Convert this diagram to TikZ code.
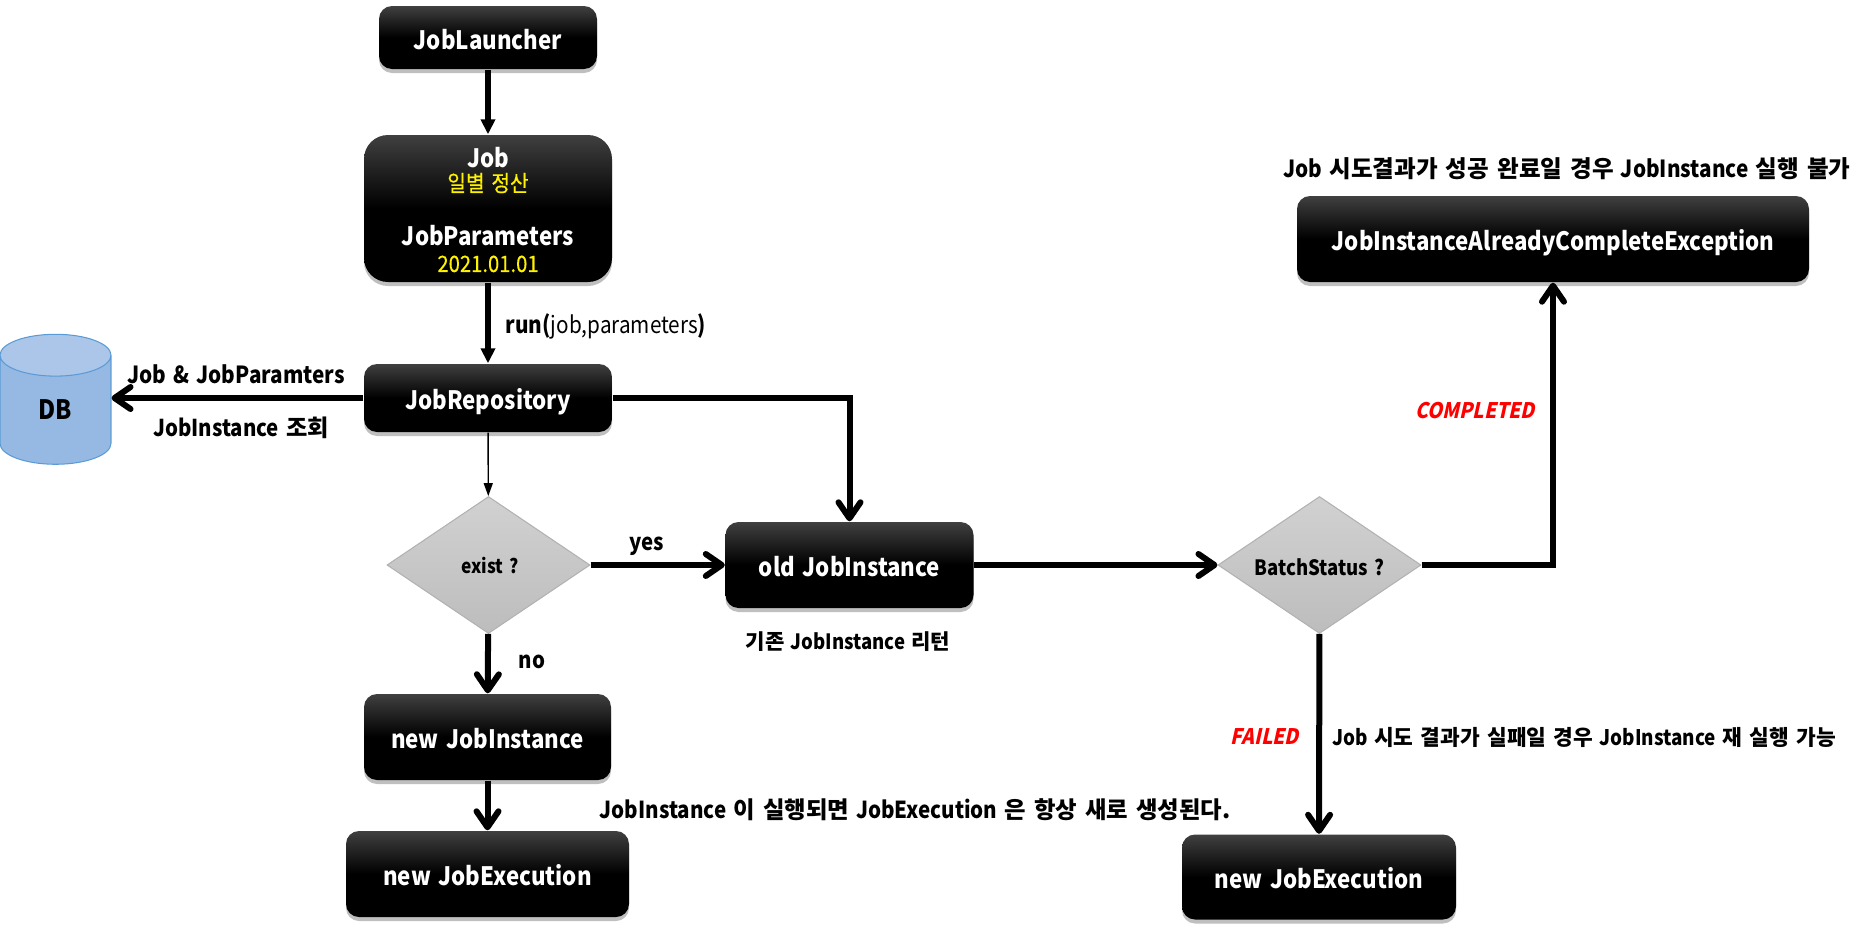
\documentclass[tikz,border=0pt]{standalone}
\usepackage{fontspec}
\setmainfont{Noto Sans CJK KR}[FakeStretch=0.88,WordSpace=1.5]
\newfontfamily\kr{Noto Sans CJK KR}[WordSpace=1.5]
\newfontfamily\yellowfont{Noto Sans CJK KR}[FakeBold=0.35,FakeStretch=0.9,WordSpace=1.5]
\newfontfamily\failfont{Noto Sans CJK KR}[BoldFeatures={FakeSlant=0.22,FakeStretch=0.9}]
\usetikzlibrary{shapes.geometric,shadows,arrows.meta}
\definecolor{diamondgray}{HTML}{C4C4C4}
\definecolor{dbtop}{HTML}{ABC6E8}
\definecolor{dbbottom}{HTML}{8DB3E2}
\definecolor{dbline}{HTML}{5B9BD5}
\tikzset{
  jobbox/.style={rectangle,rounded corners=0.13cm,top color=black!75,bottom color=black,middle color=black,
    drop shadow={shadow xshift=0cm,shadow yshift=-0.04cm,fill=black,opacity=0.25},
    text=white,font=\fontsize{7.2}{9}\selectfont\bfseries,inner sep=0pt,text height=1em,text depth=0.34em},
  decision/.style={diamond,aspect=1.48,inner sep=0pt,draw=black!30,line width=0.3pt,fill=diamondgray,
    top color=black!18,bottom color=black!26,font=\fontsize{5.6}{8}\selectfont\bfseries},
  note/.style={inner sep=0pt,font=\fontsize{6.6}{8}\selectfont\bfseries},
  failnote/.style={note,text=red,font=\fontsize{6.1}{8}\selectfont\failfont\bfseries},
  solidarrow/.style={line width=0.06cm,-{Triangle[length=0.15cm,width=0.14cm]}},
  openarrow/.style={line width=0.06cm,-{Straight Barb[length=0.16cm,width=0.22cm,round]}}
}
\newcommand{\yellowtext}[1]{\textcolor{yellow}{\mdseries\fontsize{6.4}{8}\selectfont\yellowfont #1}}
\begin{document}
\begin{tikzpicture}
\useasboundingbox (0,0) rectangle (18.72,-9.32);

\begin{scope}[every node/.style={jobbox}]
\node[minimum width=2.18cm,minimum height=0.63cm] (JobLauncher) at (4.88,-0.375) {JobLauncher};
\node[minimum width=2.48cm,minimum height=1.47cm,rounded corners=0.24cm,align=center,text height=,text depth=] (Job) at (4.88,-2.085)
  {\rule{0pt}{6.6pt}Job\\[-2.3pt]\yellowtext{일별 정산}\\[6.5pt]JobParameters\\[-1.6pt]\yellowtext{2021.01.01}};
\node[minimum width=2.48cm,minimum height=0.68cm] (JobRepository) at (4.88,-3.98) {JobRepository};
\node[minimum width=2.48cm,minimum height=0.86cm] (oldInstance) at (8.495,-5.65) {old JobInstance};
\node[minimum width=2.47cm,minimum height=0.86cm] (newInstance) at (4.875,-7.37) {new JobInstance};
\node[minimum width=2.83cm,minimum height=0.86cm] (newExecution) at (4.875,-8.74) {new JobExecution};
\node[minimum width=2.74cm,minimum height=0.85cm] (retryExecution) at (13.19,-8.77) {new JobExecution};
\node[minimum width=5.12cm,minimum height=0.86cm] (alreadyComplete) at (15.53,-2.39) {JobInstanceAlreadyCompleteException};
\end{scope}

\node[cylinder,shape border rotate=90,aspect=1.25,minimum width=1.11cm,minimum height=1.3cm,inner sep=0pt,
  draw=dbline,line width=0.3pt,cylinder uses custom fill,cylinder body fill=dbbottom!70!dbtop,cylinder end fill=dbtop,
  font=\fontsize{7.6}{9}\selectfont\bfseries] (DB) at (0.555,-4.10) {DB};

\node[decision,minimum width=2.03cm,minimum height=1.37cm] (exist) at (4.885,-5.65) {\hspace{1pt}exist ?};
\node[decision,minimum width=2.03cm,minimum height=1.37cm,font=\fontsize{6}{8}\selectfont\bfseries,text height=6.1pt,text depth=0pt] (batchStatus) at (13.195,-5.65) {BatchStatus ?};

\begin{scope}[every node/.style={note}]
\node[font=\fontsize{6.7}{8}\selectfont\bfseries] (readLabel) at (2.36,-3.74) {Job \& JobParamters};
\node (lookupLabel) at (2.41,-4.28) {JobInstance {\kr 조회}};
\node[font=\fontsize{6.7}{8}\selectfont] (runLabel) at (6.06,-3.26) {\textbf{run(}job,parameters\textbf{)}};
\node (yesLabel) at (6.47,-5.46) {yes};
\node (noLabel) at (5.32,-6.62) {no};
\node[font=\fontsize{6}{8}\selectfont\bfseries] (returnLabel) at (8.48,-6.42) {{\kr 기존} JobInstance {\kr 리턴}};
\node[font=\fontsize{6.65}{8}\selectfont\bfseries] (alwaysLabel) at (9.15,-8.10) {JobInstance {\kr 이 실행되면} JobExecution {\kr 은 항상 새로 생성된다.}};
\node[font=\fontsize{6.7}{8}\selectfont\bfseries] (successLabel) at (15.67,-1.69) {Job {\kr 시도결과가 성공 완료일 경우} JobInstance {\kr 실행 불가}};
\node[font=\fontsize{6.1}{8}\selectfont\bfseries] (failLabel) at (15.84,-7.37) {Job {\kr 시도 결과가 실패일 경우} JobInstance {\kr 재 실행 가능}};
\node[failnote] (completedLabel) at (14.75,-4.11) {COMPLETED};
\node[failnote] (failedLabel) at (12.65,-7.37) {FAILED};
\end{scope}

\draw[solidarrow] (JobLauncher) -- (Job);
\draw[solidarrow] (Job) -- (JobRepository);
\draw[-{Triangle[length=0.13cm,width=0.09cm]},line width=0.4pt] (JobRepository) -- (exist);
\draw[openarrow] (JobRepository.west) -- (DB.east |- JobRepository.west);
\draw[openarrow] (JobRepository.east) -| (oldInstance.north);
\draw[openarrow] (exist) -- (oldInstance);
\draw[openarrow] (exist) -- (newInstance);
\draw[openarrow] (newInstance) -- (newExecution);
\draw[openarrow] (oldInstance) -- (batchStatus);
\draw[openarrow] (batchStatus.east) -| (alreadyComplete.south);
\draw[openarrow] (batchStatus) -- (retryExecution);
\end{tikzpicture}
\end{document}
